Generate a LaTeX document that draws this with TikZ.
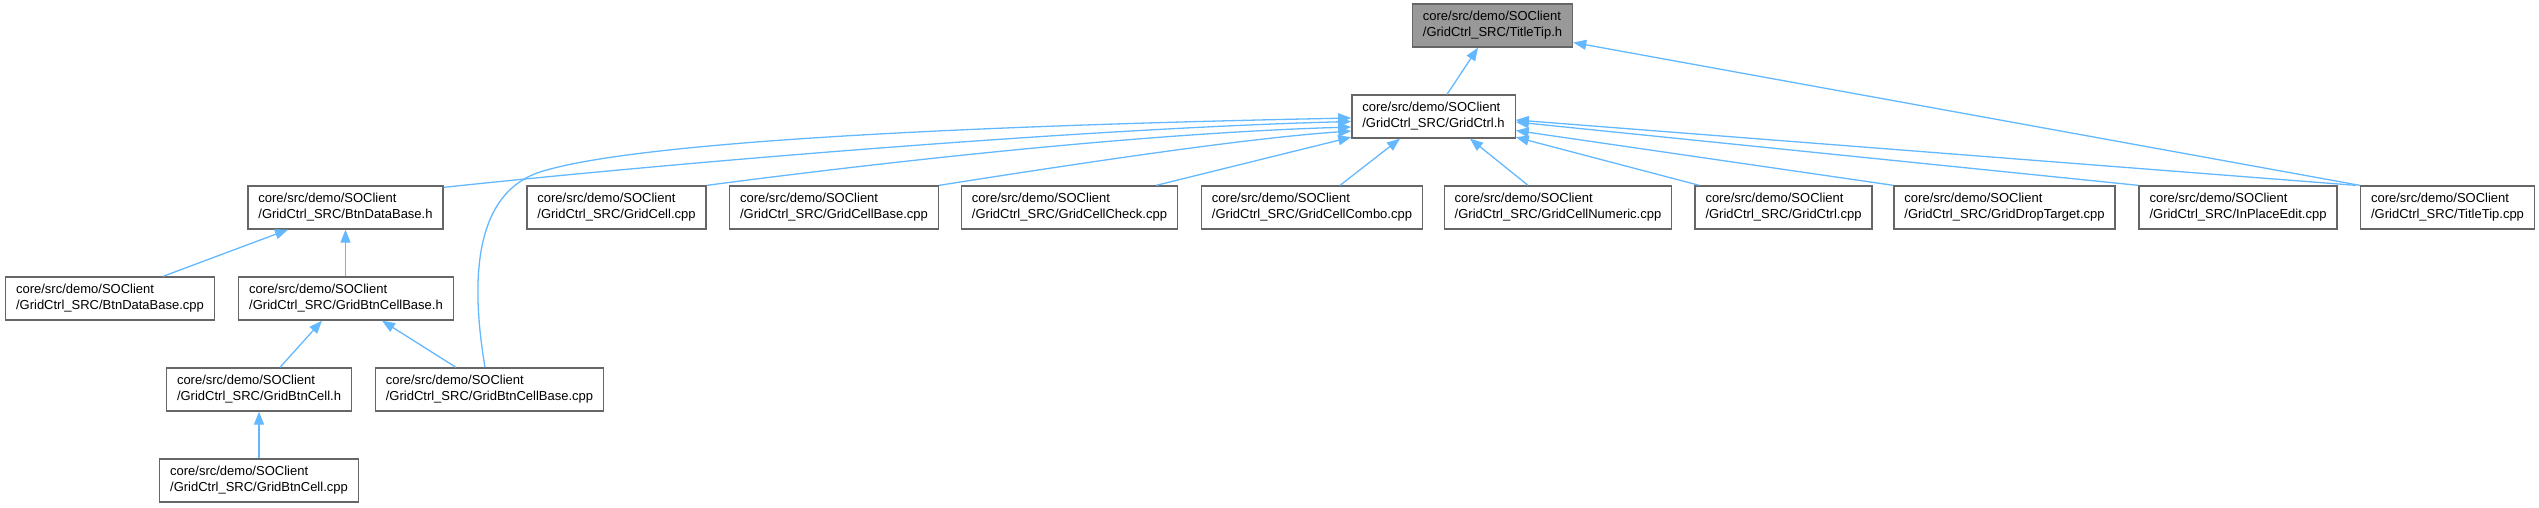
\documentclass[tikz,border=0pt]{standalone}
\usepackage{fontspec}
\setmainfont{Liberation Sans}
\usetikzlibrary{arrows.meta}
\definecolor{boxgray}{HTML}{666666}
\definecolor{hlgray}{HTML}{999999}
\definecolor{edgeblue}{HTML}{63B8FF}
\tikzset{
  file/.style={draw=boxgray, fill=white, line width=1.3pt, font=\fontsize{13}{16}\selectfont,
    align=left, inner xsep=10.5pt, inner ysep=0pt, minimum height=43pt, text=black},
  hlfile/.style={file, fill=hlgray},
  edge/.style={draw=edgeblue, line width=1.3pt, {Triangle[length=13pt,width=10pt]}-},
}
\begin{document}
\begin{tikzpicture}[x=1pt,y=-1pt]
\useasboundingbox (0,0) rectangle (2539,507);
% row 0
\node[hlfile] (titletiph) at (1492.5,25.5) {core/src/demo/SOClient\\/GridCtrl\_SRC/TitleTip.h};
\node[file] (gctrlh) at (1433.5,116.5) {core/src/demo/SOClient\\/GridCtrl\_SRC/GridCtrl.h};
% row 1
\node[file] (btnh) at (345.5,207.5) {core/src/demo/SOClient\\/GridCtrl\_SRC/BtnDataBase.h};
\node[file] (gcell) at (616.5,207.5) {core/src/demo/SOClient\\/GridCtrl\_SRC/GridCell.cpp};
\node[file] (gcellbase) at (834,207.5) {core/src/demo/SOClient\\/GridCtrl\_SRC/GridCellBase.cpp};
\node[file] (gcellcheck) at (1069.5,207.5) {core/src/demo/SOClient\\/GridCtrl\_SRC/GridCellCheck.cpp};
\node[file] (gcellcombo) at (1312,207.5) {core/src/demo/SOClient\\/GridCtrl\_SRC/GridCellCombo.cpp};
\node[file] (gcellnum) at (1558,207.5) {core/src/demo/SOClient\\/GridCtrl\_SRC/GridCellNumeric.cpp};
\node[file] (gctrlcpp) at (1783.5,207.5) {core/src/demo/SOClient\\/GridCtrl\_SRC/GridCtrl.cpp};
\node[file] (gdrop) at (2004.5,207.5) {core/src/demo/SOClient\\/GridCtrl\_SRC/GridDropTarget.cpp};
\node[file] (inplace) at (2238,207.5) {core/src/demo/SOClient\\/GridCtrl\_SRC/InPlaceEdit.cpp};
\node[file] (titletipcpp) at (2447.5,207.5) {core/src/demo/SOClient\\/GridCtrl\_SRC/TitleTip.cpp};
% row 2
\node[file] (btncpp) at (110,298.5) {core/src/demo/SOClient\\/GridCtrl\_SRC/BtnDataBase.cpp};
\node[file] (gbcbh) at (346,298.5) {core/src/demo/SOClient\\/GridCtrl\_SRC/GridBtnCellBase.h};
% row 3
\node[file] (gbch) at (259,389.5) {core/src/demo/SOClient\\/GridCtrl\_SRC/GridBtnCell.h};
\node[file] (gbcbcpp) at (489.5,389.5) {core/src/demo/SOClient\\/GridCtrl\_SRC/GridBtnCellBase.cpp};
% row 4
\node[file] (gbccpp) at (259,480.5) {core/src/demo/SOClient\\/GridCtrl\_SRC/GridBtnCell.cpp};

% edges to TitleTip.h
\draw[edge] ([xshift=-14.5pt]titletiph.south) -- ([xshift=13.5pt]gctrlh.north);
\draw[edge] ([yshift=-17pt]titletiph.east) -- (titletipcpp.north west);
% edges to GridCtrl.h (left side)
\draw[edge] ([yshift=-1.5pt]gctrlh.west) .. controls (1000,125) and (640,140) .. (540,172)
  .. controls (470,195) and (472,290) .. ([xshift=-4.5pt]gbcbcpp.north);
\draw[edge] ([yshift=-5pt]gctrlh.west) .. controls (1100,128) and (700,160) .. ([yshift=-2pt]btnh.north east);
\draw[edge] ([yshift=-10.5pt]gctrlh.west) .. controls (1150,133) and (900,160) .. (gcell.north east);
\draw[edge] ([yshift=-14.5pt]gctrlh.west) .. controls (1250,138) and (1100,160) .. (gcellbase.north east);
\draw[edge] ([yshift=1.5pt]gctrlh.south west) -- ([xshift=-22pt]gcellcheck.north east);
% bottom
\draw[edge] ([xshift=-33.5pt]gctrlh.south) -- ([xshift=28pt]gcellcombo.north);
\draw[edge] ([xshift=36.5pt]gctrlh.south) -- ([xshift=-30pt]gcellnum.north);
% right side
\draw[edge] ([yshift=1.5pt]gctrlh.south east) -- ([xshift=5pt]gctrlcpp.north west);
\draw[edge] ([yshift=-14pt]gctrlh.east) -- (gdrop.north west);
\draw[edge] ([yshift=-5.5pt]gctrlh.east) -- (inplace.north west);
\draw[edge] ([yshift=-3.5pt]gctrlh.east) -- ([xshift=-4pt]titletipcpp.north west);
% lower left
\draw[edge] ([xshift=-57.5pt]btnh.south) -- ([xshift=53pt]btncpp.north);
\draw[edge] (btnh.south) -- (btnh.south |- gbcbh.north);
\draw[edge] ([xshift=-24pt]gbcbh.south) -- ([xshift=21pt]gbch.north);
\draw[edge] ([xshift=36pt]gbcbh.south) -- ([xshift=-33.5pt]gbcbcpp.north);
\draw[edge] (gbch.south) -- (gbccpp.north);
\end{tikzpicture}
\end{document}
